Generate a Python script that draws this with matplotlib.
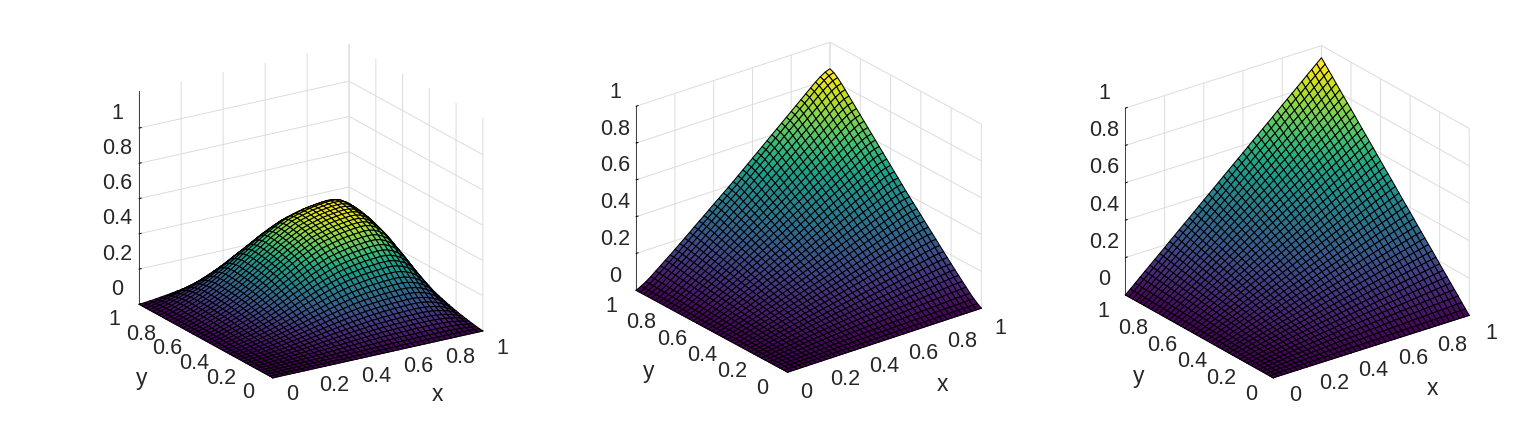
"""
Three surface plots side by side, drawn with an orthographic 3D view.
Each surface is the product of one profile with itself: z(x, y) = p(x) * p(y).
"""
import numpy as np
import matplotlib
matplotlib.use('Agg')
import matplotlib.pyplot as plt
from mpl_toolkits.mplot3d import proj3d

plt.rcParams['font.family'] = ['Liberation Sans', 'DejaVu Sans']

W, H = 1524, 423
TEXT = '#262626'

grid_t = np.linspace(0, 1, 41)

profile_a = [0.000, 0.012, 0.025, 0.041, 0.060, 0.078, 0.097, 0.118, 0.140, 0.165,
             0.190, 0.217, 0.245, 0.275, 0.305, 0.337, 0.370, 0.400, 0.430, 0.460,
             0.490, 0.517, 0.543, 0.567, 0.590, 0.606, 0.620, 0.633, 0.645, 0.653,
             0.660, 0.666, 0.670, 0.668, 0.655, 0.628, 0.590, 0.530, 0.450, 0.340,
             0.220]
profile_b = [0.000, 0.015, 0.032, 0.052, 0.075, 0.097, 0.120, 0.142, 0.165, 0.189,
             0.212, 0.236, 0.260, 0.284, 0.307, 0.331, 0.355, 0.379, 0.402, 0.426,
             0.450, 0.475, 0.500, 0.525, 0.550, 0.575, 0.600, 0.625, 0.650, 0.675,
             0.700, 0.725, 0.750, 0.775, 0.800, 0.825, 0.850, 0.875, 0.897, 0.915,
             0.925]
profile_c = [0.000, 0.024, 0.048, 0.073, 0.097, 0.121, 0.145, 0.169, 0.193, 0.218,
             0.242, 0.266, 0.290, 0.314, 0.338, 0.363, 0.387, 0.411, 0.435, 0.459,
             0.484, 0.508, 0.532, 0.556, 0.580, 0.604, 0.629, 0.653, 0.677, 0.701,
             0.725, 0.750, 0.774, 0.798, 0.822, 0.846, 0.870, 0.895, 0.919, 0.943,
             0.967]

xy_ticks = [0, 0.2, 0.4, 0.6, 0.8, 1]
z_ticks = [0, 0.2, 0.4, 0.6, 0.8, 1]

panels = [
    dict(profile=profile_a, elev=20.5, azim=-122.5, zmax=1.21, zbox=0.915,
         left=102, bottom=3, size=407,
         x_off=(19, -17), y_off=(-25, -15), z_off=(-22, 15),
         xlabel=(437, 394), ylabel=(142, 378)),
    dict(profile=profile_b, elev=25, azim=-128, zmax=1.0, zbox=0.826,
         left=608, bottom=15, size=391,
         x_off=(19, -20), y_off=(-25, -16), z_off=(-21, 14),
         xlabel=(942, 384), ylabel=(649, 371)),
    dict(profile=profile_c, elev=25, azim=-127, zmax=1.0, zbox=0.84,
         left=1096, bottom=10, size=392,
         x_off=(22, -18), y_off=(-22, -17), z_off=(-21, 15),
         xlabel=(1432, 388), ylabel=(1139, 376)),
]


def tick_label(ax, point, text, offset):
    px, py, _ = proj3d.proj_transform(*point, ax.get_proj())
    ax.annotate(text, (px, py), xytext=offset, textcoords='offset pixels',
                ha='center', va='center', fontsize=15.5, color=TEXT,
                annotation_clip=False)


def draw_panel(fig, p):
    ax = fig.add_axes([p['left'] / W, p['bottom'] / H, p['size'] / W, p['size'] / H],
                      projection='3d', proj_type='ortho')
    ax.view_init(elev=p['elev'], azim=p['azim'])
    ax.set_box_aspect((1, 1, p['zbox']))
    ax.set_xlim(0, 1, view_margin=0)
    ax.set_ylim(0, 1, view_margin=0)
    ax.set_zlim(0, p['zmax'], view_margin=0)
    ax.patch.set_alpha(0)

    profile = np.array(p['profile'])
    X, Y = np.meshgrid(grid_t, grid_t)
    Z = np.outer(profile, profile)
    ax.plot_surface(X, Y, Z, rstride=1, cstride=1, cmap='viridis',
                    edgecolor='black', linewidth=0.75, shade=False)

    ax.set_xticks(xy_ticks)
    ax.set_yticks(xy_ticks)
    ax.set_zticks(z_ticks)
    ax.set_xticklabels([])
    ax.set_yticklabels([])
    ax.set_zticklabels([])

    for axis in (ax.xaxis, ax.yaxis, ax.zaxis):
        axis.set_pane_color((1, 1, 1, 0))
        axis.pane.set_edgecolor((1, 1, 1, 0))
        axis.line.set_color('#404040')
        axis.line.set_linewidth(0.7)
        axis._axinfo['grid'].update(color='#dcdcdc', linewidth=0.7)
        axis._axinfo['tick'].update(inward_factor=0, outward_factor=0.12,
                                    linewidth={True: 0.7, False: 0.5},
                                    color='#262626')

    for t in xy_ticks:
        tick_label(ax, (t, 0, 0), f'{t:g}', p['x_off'])
        tick_label(ax, (0, t, 0), f'{t:g}', p['y_off'])
    for t in z_ticks:
        tick_label(ax, (0, 1, t), f'{t:g}', p['z_off'])

    fig.text(p['xlabel'][0] / W, 1 - p['xlabel'][1] / H, 'x', ha='center', va='center',
             fontsize=16.5, color=TEXT)
    fig.text(p['ylabel'][0] / W, 1 - p['ylabel'][1] / H, 'y', ha='center', va='center',
             fontsize=16.5, color=TEXT)
    return ax


def main():
    fig = plt.figure(figsize=(W / 100, H / 100), dpi=100, facecolor='white')
    for p in panels:
        draw_panel(fig, p)
    fig.savefig('out.png', dpi=100)
    plt.close(fig)


if __name__ == '__main__':
    main()
